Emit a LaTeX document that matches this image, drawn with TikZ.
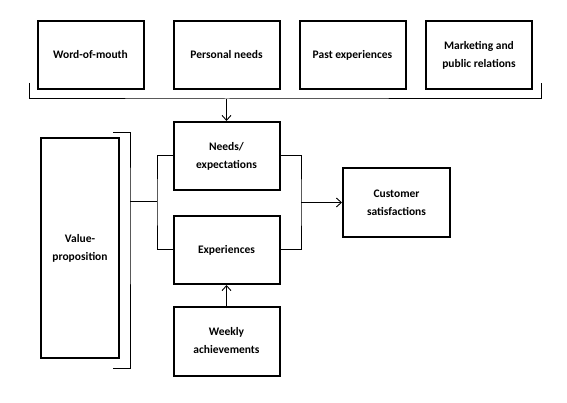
\documentclass[tikz,border=0pt]{standalone}
\usepackage{fontspec}
\setmainfont{Carlito}
\usetikzlibrary{arrows.meta}
\begin{document}
\begin{tikzpicture}[x=1pt,y=-1pt,
  box/.style={draw=black,line width=2pt,minimum width=106pt,minimum height=68pt,inner sep=0pt,align=center,font=\fontsize{11.5}{18}\selectfont\bfseries},
  conn/.style={draw=black,line width=1pt},
  arr/.style={conn,-{Straight Barb[length=5pt,width=9pt,line width=0.9pt]}}]
\useasboundingbox (0,0) rectangle (567,403);
\node[box] (wom) at (90.5,55) {Word-of-mouth};
\node[box] (pn) at (226.5,55) {Personal needs};
\node[box] (pe) at (352.5,55) {Past experiences};
\node[box] (mk) at (479,55) {Marketing and\\public relations};
\node[box] (needs) at (226.5,156) {Needs/\\expectations};
\node[box] (exp) at (226.5,250) {Experiences};
\node[box,minimum height=69pt] (wk) at (226.5,341) {Weekly\\achievements};
\node[box,minimum width=78pt,minimum height=220pt] (vp) at (80,248) {Value-\\proposition};
\node[box,minimum width=107pt,minimum height=69pt] (cs) at (396.5,202.5) {Customer\\satisfactions};
% top bracket
\coordinate (tl) at (29,83);
\coordinate (tr) at (541,83);
\coordinate (tm) at (226.5,99);
\draw[conn] (tl) |- (tm) -| (tr);
\draw[arr] (tm) -- (needs.north);
% left bracket
\coordinate (lbt) at (113,133);
\coordinate (lbb) at (113,368);
\coordinate (lbm) at (130,202);
\coordinate (lj) at (157,202);
\draw[conn] (lbt) -| (lbm) |- (lbb);
\draw[conn] (lbm) -- (lj);
\draw[conn] (needs.west) -| (lj) |- (exp.west);
% right junction
\coordinate (rj) at (301,202.5);
\draw[conn] (needs.east) -| (rj) |- (exp.east);
\draw[arr] (rj) -- (cs.west);
% weekly
\draw[arr] (wk.north) -- (exp.south);
\end{tikzpicture}
\end{document}
